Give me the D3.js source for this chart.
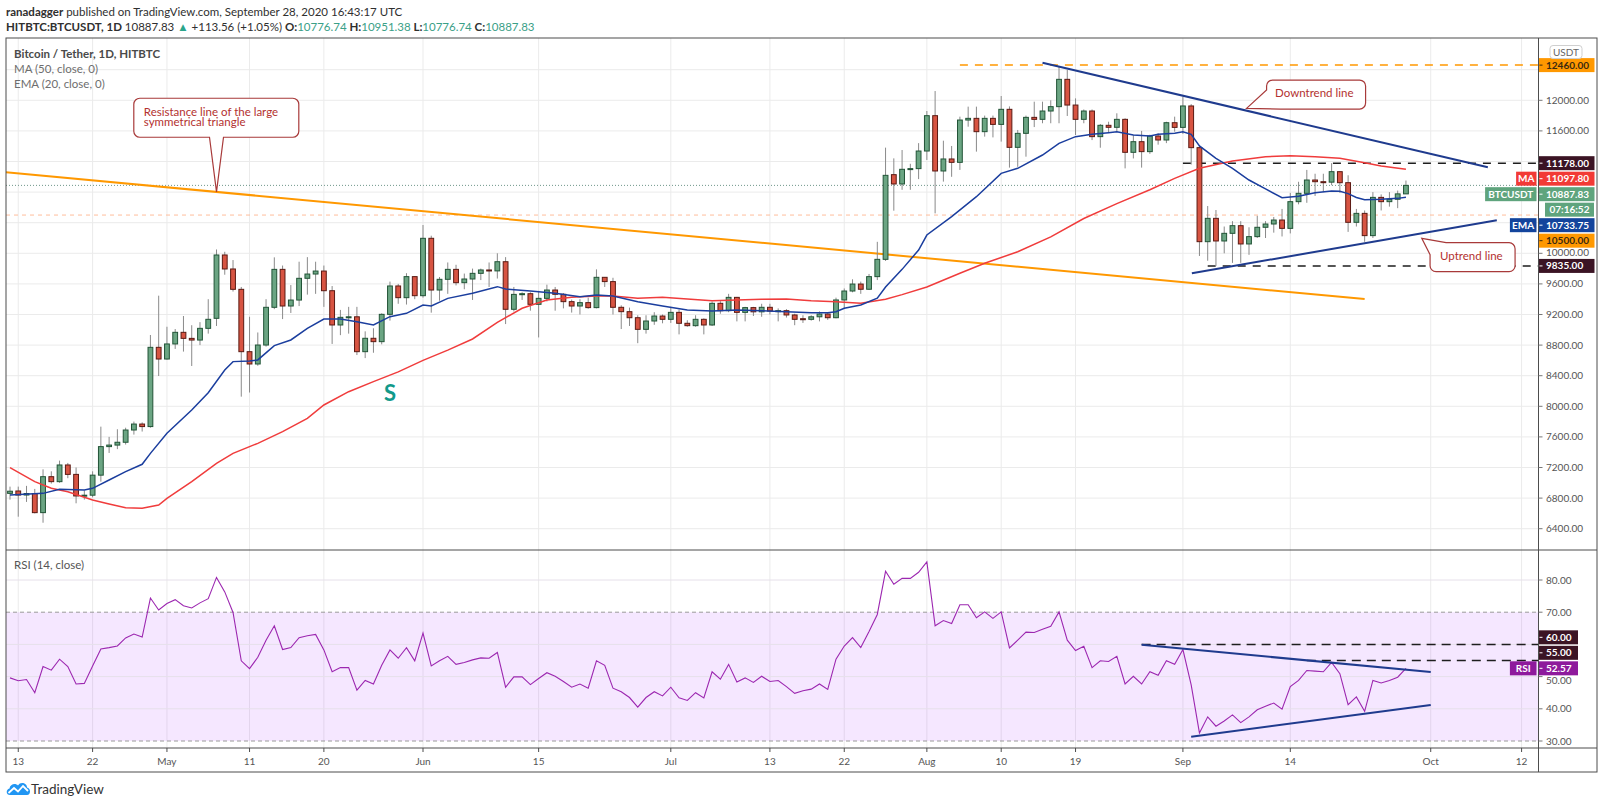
<!DOCTYPE html>
<html>
<head>
<meta charset="utf-8">
<title>Bitcoin / Tether, 1D</title>
<script src="https://cdn.jsdelivr.net/npm/d3@7/dist/d3.min.js"></script>
<style>
  html, body { margin: 0; padding: 0; background: #fff; }
  svg { display: block; font-family: Lato, "Open Sans", sans-serif; }
</style>
</head>
<body>
<svg id="chart" width="1600" height="805"></svg>
<script>
// ---- values (daily candles from 2020-04-12) ----
const firstDay = "2020-04-12";

const opens = [6862,6893,6840,6860,6610,7080,7015,7233,7110,6828,
  6838,7100,7473,7493,7530,7690,7768,7735,8771,8618,
  8815,8967,8888,8866,9019,9150,9978,9795,9529,8714,
  8553,8801,9294,9790,9311,9389,9673,9729,9768,9511,
  9063,9163,9170,8714,8889,8845,9202,9573,9420,9695,
  9446,10196,9520,9660,9790,9616,9664,9738,9782,9770,
  9890,9268,9463,9472,9333,9411,9520,9464,9368,9311,
  9355,9290,9686,9630,9294,9237,9158,9006,9115,9180,
  9137,9228,9085,9054,9137,9063,9346,9250,9424,9228,
  9290,9235,9294,9245,9250,9194,9145,9137,9170,9206,
  9158,9390,9507,9598,9530,9695,9921,11028,10906,11098,
  11107,11337,11799,11076,11233,11189,11742,11764,11590,11764,
  11685,11882,11385,11568,11777,11751,11860,11917,12274,11938,
  11751,11860,11525,11673,11647,11751,11320,11459,11329,11533,
  11481,11707,11646,11926,11381,10152,10457,10161,10261,10361,
  10122,10218,10340,10383,10435,10326,10675,10784,10958,10936,
  10930,11067,10923,10405,10522,10231,10731,10675,10706,10776.74];

const highs = [6950,6950,6960,6920,7176,7150,7290,7260,7200,6900,
  7150,7734,7600,7700,7720,7800,7790,8932,9446,9040,
  9010,9180,9060,9100,9400,10050,10020,9912,9560,9170,
  8965,9400,9947,9840,9585,9890,9950,9890,9840,9572,
  9260,9300,9300,8980,9020,9215,9630,9600,9740,9700,
  10370,10230,9690,9880,9850,9735,9800,9800,9880,10000,
  9950,9560,9490,9490,9510,9590,9560,9480,9395,9400,
  9420,9790,9690,9680,9320,9290,9190,9190,9230,9200,
  9300,9265,9125,9190,9150,9370,9375,9470,9430,9300,
  9300,9340,9340,9280,9270,9210,9190,9190,9240,9220,
  9420,9540,9660,9630,9730,10150,11381,11241,11350,11170,
  11440,11860,12121,11472,11403,11786,11917,11917,11800,11800,
  12056,11920,11612,11800,11982,11982,12000,12448,12396,12025,
  11880,11880,11690,11720,11830,11765,11545,11600,11550,11570,
  11720,11786,12047,11950,11400,10618,10566,10350,10420,10420,
  10340,10490,10420,10475,10580,10790,10935,11090,11040,11040,
  11178,11070,11020,10580,10560,10800,10770,10800,10820,10951.38];

const lows = [6780,6557,6750,6600,6478,6990,7000,7060,6732,6780,
  6810,7015,7390,7440,7500,7630,7670,7720,8396,8610,
  8750,8715,8527,8800,8950,9050,9720,9500,8126,8180,
  8530,8780,9270,9140,9220,9310,9460,9470,9300,8815,
  8930,8950,8670,8630,8700,8810,9120,9340,9330,9400,
  9420,9224,9380,9470,9580,9530,9390,9650,9560,9670,
  9075,9240,9390,9250,8900,9370,9250,9280,9225,9200,
  9275,9280,9560,9200,9010,9050,8825,8950,9065,9085,
  9090,8940,9040,9040,8940,9050,9210,9230,9110,9110,
  9180,9170,9200,9110,9160,9060,9090,9120,9110,9130,
  9150,9270,9490,9470,9520,9650,9900,10557,10830,10830,
  10970,11220,10522,10937,11000,11090,11655,11329,11525,11515,
  11460,11120,11130,11263,11650,11700,11700,11700,11795,11546,
  11700,11480,11380,11580,11590,11110,11240,11120,11300,11420,
  11440,11590,11560,11160,9965,9903,9835,10000,9875,9875,
  9980,10200,10200,10270,10220,10260,10640,10660,10750,10800,
  10890,10790,10280,10350,10150,10200,10560,10610,10590,10776.74];

const closes = [6890,6840,6860,6610,7080,7015,7233,7110,6828,6838,
  7100,7473,7493,7530,7690,7768,7735,8771,8618,8815,
  8967,8888,8866,9019,9137,9978,9795,9529,8714,8553,
  8801,9294,9790,9311,9389,9673,9729,9768,9511,9063,
  9163,9170,8714,8889,8845,9202,9573,9420,9695,9446,
  10196,9520,9660,9790,9616,9664,9738,9782,9770,9890,
  9268,9463,9472,9333,9411,9520,9464,9368,9311,9355,
  9290,9686,9630,9294,9237,9158,9006,9115,9180,9137,
  9228,9085,9054,9137,9063,9346,9250,9424,9228,9290,
  9235,9294,9245,9250,9194,9137,9137,9170,9206,9158,
  9390,9507,9598,9530,9695,9921,11019,10906,11098,11107,
  11337,11799,11076,11233,11189,11742,11764,11590,11764,11685,
  11882,11385,11568,11777,11751,11860,11917,12274,11938,11751,
  11860,11525,11673,11647,11751,11320,11459,11329,11533,11481,
  11707,11646,11926,11381,10152,10457,10161,10261,10361,10122,
  10218,10340,10383,10435,10326,10675,10784,10958,10936,10930,
  11067,10923,10405,10522,10231,10731,10675,10706,10776.74,10887.83];

const rsiValues = [49.6,48.7,49.1,45.0,53.1,52.0,55.4,53.1,47.7,47.9,
  53.3,58.6,59.0,59.5,62.0,63.2,62.3,74.4,70.7,72.7,
  73.9,72.0,71.3,72.9,74.2,80.8,76.3,69.9,54.9,52.5,
  56.0,61.3,65.8,58.4,59.0,62.1,62.7,63.1,58.3,51.5,
  52.8,52.8,45.8,48.8,47.7,53.5,58.3,55.7,59.0,54.9,
  63.5,53.3,54.9,56.3,53.8,54.4,55.2,55.8,55.7,57.5,
  46.7,49.9,49.9,47.5,49.4,51.2,50.1,48.5,46.7,47.7,
  46.4,54.9,53.5,46.4,45.3,43.5,40.5,43.5,45.3,44.0,
  46.7,43.4,42.6,45.0,43.4,51.5,49.2,53.8,48.3,49.6,
  48.2,50.1,48.5,48.8,46.9,44.8,45.6,46.1,47.7,46.0,
  55.4,59.5,62.1,59.0,64.0,69.3,82.7,78.7,80.5,80.5,
  82.4,85.6,65.8,67.4,66.5,72.3,72.3,68.3,70.1,68.1,
  70.1,58.9,61.3,63.8,63.7,64.7,65.6,70.1,61.3,58.1,
  59.4,52.8,54.9,54.7,56.3,47.7,50.1,47.7,51.5,50.4,
  54.9,53.8,58.4,47.4,32.5,37.5,34.6,36.2,38.1,35.7,
  37.5,39.7,40.8,41.8,39.9,46.9,48.8,51.9,51.7,51.5,
  54.4,50.9,41.3,43.7,39.2,48.8,48.0,48.8,49.8,52.57];

// MA(50) and EMA(20) read at [day index, value]
const maPoints = [[0,7198],[3,7015],[5,6928],[7,6884],[10,6775],[12,6723],[14,6675],[16,6666],[18,6710],[19,6797],
  [22,7015],[25,7255],[27,7385],[30,7516],[33,7669],[36,7843],[38,8017],[41,8191],[44,8322],[47,8450],
  [50,8600],[53,8735],[56,8880],[59,9098],[62,9281],[65,9390],[68,9425],[71,9442],[73,9442],[76,9411],
  [79,9425],[82,9403],[85,9381],[88,9390],[91,9398],[94,9403],[97,9381],[100,9368],[103,9346],[106,9400],
  [108,9460],[111,9560],[115,9740],[118,9870],[122,10020],[126,10215],[130,10455],[134,10650],[138,10830],[141,10980],
  [144,11111],[148,11207],[152,11263],[155,11276],[158,11263],[161,11241],[164,11185],[166,11141],[169,11097.8]];

const emaPoints = [[0,6841],[4,6862],[6,6915],[9,6906],[10,6928],[12,7037],[14,7146],[16,7242],[17,7385],[19,7647],
  [22,7952],[24,8178],[26,8475],[27,8584],[29,8592],[30,8606],[32,8793],[34,8867],[36,9019],[38,9141],
  [40,9141],[42,9106],[44,9063],[46,9172],[48,9215],[50,9324],[51,9311],[53,9411],[56,9477],[59,9564],
  [60,9533],[63,9507],[66,9477],[69,9433],[71,9455],[73,9442],[76,9368],[79,9311],[82,9259],[85,9246],
  [88,9259],[91,9250],[94,9237],[97,9224],[99,9224],[100,9237],[101,9281],[103,9324],[105,9413],[106,9560],
  [108,9790],[110,10043],[111,10239],[114,10479],[117,10740],[120,11045],[122,11111],[125,11285],[127,11438],[129,11525],
  [131,11555],[133,11577],[134,11590],[136,11546],[138,11533],[139,11555],[141,11568],[142,11590],[143,11555],[144,11403],
  [146,11241],[148,11111],[150,10958],[152,10841],[154,10727],[156,10745],[158,10790],[160,10814],[161,10810],[162,10780],
  [163,10730],[164,10700],[166,10705],[168,10718],[169,10733.75]];

const xTicks = [["2020-04-13","13"],["2020-04-22","22"],["2020-05-01","May"],["2020-05-11","11"],["2020-05-20","20"],
  ["2020-06-01","Jun"],["2020-06-15","15"],["2020-07-01","Jul"],["2020-07-13","13"],["2020-07-22","22"],
  ["2020-08-01","Aug"],["2020-08-10","10"],["2020-08-19","19"],["2020-09-01","Sep"],["2020-09-14","14"],
  ["2020-10-01","Oct"],["2020-10-12","12"]];
const priceTicks = d3.range(6400, 12401, 400);
const rsiTicks = [30, 40, 50, 60, 70, 80];

// drawings: [date, value]
const resistanceLine = [["2020-04-11", 11064], ["2020-09-23", 9402]];
const downtrendLine = [["2020-08-15", 12491], ["2020-10-07T22:00", 11124]];
const uptrendLine = [["2020-09-02T02:00", 9739], ["2020-10-09", 10431]];
const levelLines = [
  {from: "2020-08-05", value: 12460, color: "#ff9800", dash: "8,7", width: 1.5},
  {from: "2020-09-01", value: 11178, color: "#1e1e1e", dash: "8,7", width: 1.5},
  {from: "2020-09-04", value: 9835, color: "#1e1e1e", dash: "8,7", width: 1.5},
  {from: "2020-04-01", value: 10500, color: "#ffbd9b", dash: "4,4", width: 1}
];
const rsiDownLine = [["2020-08-27", 59.9], ["2020-10-01", 51.4]];
const rsiUpLine = [["2020-09-02", 31.3], ["2020-10-01", 41.2]];
const rsiLevels = [{from: "2020-08-27", value: 60}, {from: "2020-09-16", value: 55}];
const lastPrice = 10887.83;
const lastMA = 11097.80;
const lastEMA = 10733.75;
const lastRSI = 52.57;

// ---- layout ----
const L = 6, R = 1538.5, T = 38, MB = 550, RB = 748, AB = 772, OR = 1597;
const parse = s => new Date(s.length === 10 ? s + "T00:00:00Z" : s + ":00Z");
const day0 = parse(firstDay);
const dayAt = i => d3.utcDay.offset(day0, i);

const x = d3.scaleUtc().domain([parse("2020-04-12"), parse("2020-10-12")]).range([10, 10 + 183 * 8.26]);
const y = d3.scaleLinear().domain([6000, 12000]).range([559.3, 100.3]);
const yr = d3.scaleLinear().domain([30, 80]).range([741, 580]);

const svg = d3.select("#chart");
svg.append("rect").attr("width", 1600).attr("height", 805).attr("fill", "#fff");

const defs = svg.append("defs");
defs.append("clipPath").attr("id", "clipMain").append("rect")
  .attr("x", L).attr("y", T).attr("width", R - L).attr("height", MB - T);
defs.append("clipPath").attr("id", "clipRsi").append("rect")
  .attr("x", L).attr("y", MB + 1).attr("width", R - L).attr("height", RB - MB - 1);

// ---- header ----
const head = svg.append("g").attr("font-size", 11.5).attr("fill", "#2f2f2f");
const h1 = head.append("text").attr("x", 6).attr("y", 15.5);
h1.append("tspan").attr("font-weight", "bold").text("ranadagger");
h1.append("tspan").text(" published on TradingView.com, September 28, 2020 16:43:17 UTC");
const h2 = head.append("text").attr("x", 6).attr("y", 30.5);
h2.append("tspan").attr("font-weight", "bold").text("HITBTC:BTCUSDT, 1D");
h2.append("tspan").text("  10887.83 ");
h2.append("tspan").attr("fill", "#2aa58a").text("▲");
h2.append("tspan").text(" +113.56 (+1.05%) ");
[["O:", "10776.74"], ["H:", "10951.38"], ["L:", "10776.74"], ["C:", "10887.83"]].forEach(([k, v]) => {
  h2.append("tspan").attr("font-weight", "bold").text(" " + k);
  h2.append("tspan").attr("fill", "#3aa087").text(v);
});

// ---- grid ----
const grid = svg.append("g").attr("stroke", "#ebebeb").attr("stroke-width", 1);
grid.selectAll("line.v").data(xTicks).join("line")
  .attr("x1", d => x(parse(d[0]))).attr("x2", d => x(parse(d[0])))
  .attr("y1", T).attr("y2", RB);
grid.selectAll("line.h").data(priceTicks).join("line")
  .attr("x1", L).attr("x2", R).attr("y1", d => y(d)).attr("y2", d => y(d));

// RSI band and grid
svg.append("rect").attr("x", L).attr("width", R - L)
  .attr("y", yr(70)).attr("height", yr(30) - yr(70))
  .attr("fill", "rgba(153,21,255,0.1)");
svg.append("g").attr("stroke", "#e6e0ea").selectAll("line").data([80, 60, 50, 40]).join("line")
  .attr("x1", L).attr("x2", R).attr("y1", d => yr(d)).attr("y2", d => yr(d));
svg.append("g").attr("stroke", "#9a9a9a").attr("stroke-dasharray", "4,3").selectAll("line").data([70, 30]).join("line")
  .attr("x1", L).attr("x2", R).attr("y1", d => yr(d)).attr("y2", d => yr(d));

// ---- main panel drawings ----
const gMain = svg.append("g").attr("clip-path", "url(#clipMain)");

levelLines.forEach(lv => {
  gMain.append("line")
    .attr("x1", Math.max(L, x(parse(lv.from)))).attr("x2", R)
    .attr("y1", y(lv.value)).attr("y2", y(lv.value))
    .attr("stroke", lv.color).attr("stroke-width", lv.width).attr("stroke-dasharray", lv.dash);
});

// last price dotted line
gMain.append("line").attr("x1", L).attr("x2", R)
  .attr("y1", y(lastPrice)).attr("y2", y(lastPrice))
  .attr("stroke", "#6f978a").attr("stroke-dasharray", "1,2");

const trend = (pts, scaleY) => d3.line().x(d => x(parse(d[0]))).y(d => scaleY(d[1]))(pts);
gMain.append("path").attr("d", trend(resistanceLine, y))
  .attr("stroke", "#ff9800").attr("stroke-width", 2).attr("fill", "none");

const candles = opens.map((o, i) => ({date: dayAt(i), o, h: highs[i], l: lows[i], c: closes[i]}));
gMain.append("g").selectAll("line").data(candles).join("line")
  .attr("x1", d => x(d.date)).attr("x2", d => x(d.date))
  .attr("y1", d => y(d.h)).attr("y2", d => y(d.l))
  .attr("stroke", "#8a8a8a").attr("stroke-width", 1);
gMain.append("g").selectAll("rect").data(candles).join("rect")
  .attr("x", d => x(d.date) - 2.4).attr("width", 4.8)
  .attr("y", d => y(Math.max(d.o, d.c)))
  .attr("height", d => Math.max(1, Math.abs(y(d.o) - y(d.c))))
  .attr("fill", d => d.c >= d.o ? "#6ba583" : "#d75442")
  .attr("stroke", d => d.c >= d.o ? "#225437" : "#5b1a13")
  .attr("stroke-width", 1);

const ind = d3.line().x(d => x(dayAt(d[0]))).y(d => y(d[1]));
gMain.append("path").attr("d", ind(maPoints)).attr("fill", "none")
  .attr("stroke", "#f03c3c").attr("stroke-width", 1.5);
gMain.append("path").attr("d", ind(emaPoints)).attr("fill", "none")
  .attr("stroke", "#1b3e9e").attr("stroke-width", 1.5);

gMain.append("path").attr("d", trend(downtrendLine, y))
  .attr("stroke", "#1f3b8e").attr("stroke-width", 2).attr("fill", "none");
gMain.append("path").attr("d", trend(uptrendLine, y))
  .attr("stroke", "#1f3b8e").attr("stroke-width", 2).attr("fill", "none");

// callouts: tip in data coords, box offset in px
function callout(tipDate, tipValue, box, side, lines) {
  const tx = x(parse(tipDate)), ty = y(tipValue);
  const bx = tx + box.dx, by = ty + box.dy, w = box.w, h = box.h, r = 6;
  const p = d3.path();
  if (side === "bottom") {
    p.moveTo(bx + r, by); p.lineTo(bx + w - r, by); p.arcTo(bx + w, by, bx + w, by + r, r);
    p.lineTo(bx + w, by + h - r); p.arcTo(bx + w, by + h, bx + w - r, by + h, r);
    p.lineTo(tx + 7, by + h); p.lineTo(tx, ty); p.lineTo(tx - 7, by + h);
    p.lineTo(bx + r, by + h); p.arcTo(bx, by + h, bx, by + h - r, r);
    p.lineTo(bx, by + r); p.arcTo(bx, by, bx + r, by, r);
  } else if (side === "bottomleft") {
    p.moveTo(bx + r, by); p.lineTo(bx + w - r, by); p.arcTo(bx + w, by, bx + w, by + r, r);
    p.lineTo(bx + w, by + h - r); p.arcTo(bx + w, by + h, bx + w - r, by + h, r);
    p.lineTo(bx + 14, by + h); p.lineTo(tx, ty); p.lineTo(bx, by + 10);
    p.lineTo(bx, by + r); p.arcTo(bx, by, bx + r, by, r);
  } else {
    p.moveTo(bx + 16, by); p.lineTo(bx + w - r, by); p.arcTo(bx + w, by, bx + w, by + r, r);
    p.lineTo(bx + w, by + h - r); p.arcTo(bx + w, by + h, bx + w - r, by + h, r);
    p.lineTo(bx + r, by + h); p.arcTo(bx, by + h, bx, by + h - r, r);
    p.lineTo(bx, by + 12); p.lineTo(tx, ty);
  }
  p.closePath();
  svg.append("path").attr("d", p.toString()).attr("fill", "#fff")
    .attr("stroke", "#a83a3a").attr("stroke-width", 1.2);
  const t = svg.append("text").attr("font-size", 11.5).attr("fill", "#b3312f");
  lines.forEach((s, i) => t.append("tspan").attr("x", bx + box.tx).attr("y", by + box.ty + i * 10.5).text(s));
}
callout("2020-05-07", 10802, {dx: -82.7, dy: -93.7, w: 165, h: 39, tx: 10, ty: 17.5}, "bottom",
  ["Resistance line of the large", "symmetrical triangle"]);
callout("2020-09-08T17:00", 11895, {dx: 20, dy: -28.3, w: 99, h: 29, tx: 8.5, ty: 17}, "bottomleft",
  ["Downtrend line"]);
callout("2020-09-29T22:00", 10196, {dx: 8.3, dy: 4.4, w: 85, h: 29, tx: 10, ty: 17.5}, "topleft",
  ["Uptrend line"]);

svg.append("text").attr("x", x(parse("2020-05-28"))).attr("y", y(8073))
  .attr("text-anchor", "middle").attr("font-size", 22).attr("font-weight", "bold")
  .attr("fill", "#12998a").text("S");

// legend
const leg = svg.append("g").attr("font-size", 11.5);
leg.append("text").attr("x", 14).attr("y", 58).attr("fill", "#4a4a4a").attr("font-weight", "bold")
  .text("Bitcoin / Tether, 1D, HITBTC");
leg.append("text").attr("x", 14).attr("y", 73).attr("fill", "#6e6e6e").text("MA (50, close, 0)");
leg.append("text").attr("x", 14).attr("y", 88).attr("fill", "#6e6e6e").text("EMA (20, close, 0)");

// ---- RSI panel ----
const gRsi = svg.append("g").attr("clip-path", "url(#clipRsi)");
rsiLevels.forEach(lv => {
  gRsi.append("line").attr("x1", x(parse(lv.from))).attr("x2", R)
    .attr("y1", yr(lv.value)).attr("y2", yr(lv.value))
    .attr("stroke", "#1e1e1e").attr("stroke-width", 1.5).attr("stroke-dasharray", "9,6");
});
gRsi.append("path")
  .attr("d", d3.line().x((d, i) => x(dayAt(i))).y(d => yr(d))(rsiValues))
  .attr("fill", "none").attr("stroke", "#9c27b0").attr("stroke-width", 1.1);
gRsi.append("path").attr("d", trend(rsiDownLine, yr))
  .attr("stroke", "#1f3b8e").attr("stroke-width", 2).attr("fill", "none");
gRsi.append("path").attr("d", trend(rsiUpLine, yr))
  .attr("stroke", "#1f3b8e").attr("stroke-width", 2).attr("fill", "none");
svg.append("text").attr("x", 14).attr("y", 569).attr("font-size", 11.5).attr("fill", "#555")
  .text("RSI (14, close)");

// ---- frame ----
const frame = svg.append("g").attr("stroke", "#4d4d4d").attr("stroke-width", 1).attr("fill", "none");
frame.append("rect").attr("x", L).attr("y", T).attr("width", OR - L).attr("height", AB - T);
frame.append("line").attr("x1", L).attr("x2", OR).attr("y1", MB).attr("y2", MB);
frame.append("line").attr("x1", L).attr("x2", OR).attr("y1", RB).attr("y2", RB);
frame.append("line").attr("x1", R).attr("x2", R).attr("y1", T).attr("y2", AB);

// ---- time axis ----
const xa = svg.append("g").attr("font-size", 10).attr("fill", "#555").attr("text-anchor", "middle");
xTicks.forEach(([d, s]) => {
  xa.append("line").attr("x1", x(parse(d))).attr("x2", x(parse(d))).attr("y1", RB).attr("y2", RB + 4)
    .attr("stroke", "#4d4d4d");
  xa.append("text").attr("x", x(parse(d))).attr("y", 764.5).text(s);
});

// ---- price axis labels ----
function stackLabels(items, h, dir) {
  const s = items.slice().sort((a, b) => a.y - b.y);
  if (dir === "down") {
    let prev = -Infinity;
    s.forEach(it => { it.cy = Math.max(it.y, prev + h); prev = it.cy + (it.extra ? h : 0); });
  } else {
    let next = Infinity;
    for (let i = s.length - 1; i >= 0; i--) {
      const it = s[i];
      it.cy = Math.min(it.y, next - h - (it.extra ? h : 0));
      next = it.cy;
    }
  }
  return s;
}

const mainLabels = stackLabels([
  {y: y(12460), text: "12460.00", bg: "#ff9800", fg: "#3a2a10"},
  {y: y(11178), text: "11178.00", bg: "#3b1424", fg: "#fff"},
  {y: y(lastMA), text: d3.format(".2f")(lastMA), bg: "#f23a36", fg: "#fff", tag: "MA"},
  {y: y(lastPrice), text: d3.format(".2f")(lastPrice), bg: "#5fa47d", fg: "#fff", tag: "BTCUSDT", extra: "07:16:52"},
  {y: y(lastEMA), text: d3.format(".2f")(lastEMA), bg: "#13449c", fg: "#fff", tag: "EMA"},
  {y: y(10500), text: "10500.00", bg: "#ff9800", fg: "#3a2a10"},
  {y: y(9835), text: "9835.00", bg: "#3b1424", fg: "#fff"}
], 15.5, "down");

const rsiLabels = stackLabels([
  {y: yr(60), text: "60.00", bg: "#3b1424", fg: "#fff"},
  {y: yr(55), text: "55.00", bg: "#3b1424", fg: "#fff"},
  {y: yr(lastRSI), text: d3.format(".2f")(lastRSI), bg: "#8e1a9c", fg: "#fff", tag: "RSI"}
], 15.5, "up");

const pa = svg.append("g").attr("font-size", 10);
// tick labels: hidden when a coloured label sits on them, nudged clear when partly covered
function tickLabels(ticks, scale, fmt, labels) {
  ticks.forEach(v => {
    const ty = scale(v);
    let textY = ty;
    const near = labels.find(l => Math.abs(l.cy - ty) < 13 + (l.extra && ty > l.cy ? 15.5 : 0));
    if (near) {
      const d = ty - near.cy;
      if (Math.abs(d) < 6) return;
      const span = near.extra ? 22.5 : 7;
      textY = d > 0 ? near.cy + span + 5 : near.cy - 7 - 5;
      if (labels.some(l => l !== near && Math.abs(l.cy - textY) < 12)) return;
    }
    pa.append("line").attr("x1", R).attr("x2", R + 4).attr("y1", ty).attr("y2", ty).attr("stroke", "#777");
    pa.append("text").attr("x", 1546).attr("y", textY + 3.5).attr("fill", "#555").text(fmt(v));
  });
}
tickLabels(priceTicks, y, d3.format(".2f"), mainLabels);
tickLabels(rsiTicks, yr, d3.format(".2f"), rsiLabels);

function drawLabels(labels, width) {
  labels.forEach(l => {
    pa.append("rect").attr("x", R + 0.5).attr("y", l.cy - 7).attr("width", width).attr("height", 14).attr("fill", l.bg);
    pa.append("line").attr("x1", R + 1).attr("x2", R + 4).attr("y1", l.cy).attr("y2", l.cy).attr("stroke", l.fg);
    pa.append("text").attr("x", 1546).attr("y", l.cy + 3.5).attr("fill", l.fg).attr("font-weight", "bold").text(l.text);
    if (l.extra) {
      pa.append("rect").attr("x", 1545).attr("y", l.cy + 8.5).attr("width", width - 6.5).attr("height", 14).attr("fill", l.bg);
      pa.append("text").attr("x", 1569.5).attr("y", l.cy + 19).attr("text-anchor", "middle")
        .attr("fill", l.fg).attr("font-weight", "bold").text(l.extra);
    }
    if (l.tag) {
      const tw = l.tag.length * 6.2 + 8;
      pa.append("rect").attr("x", R - 2 - tw).attr("y", l.cy - 7).attr("width", tw).attr("height", 14).attr("fill", l.bg);
      pa.append("text").attr("x", R - 2 - tw / 2).attr("y", l.cy + 3.5).attr("text-anchor", "middle")
        .attr("fill", l.fg).attr("font-weight", "bold").text(l.tag);
    }
  });
}
drawLabels(mainLabels, 55.5);
drawLabels(rsiLabels, 39);

// currency box
pa.append("rect").attr("x", 1550).attr("y", 45.5).attr("width", 32).attr("height", 13).attr("rx", 3)
  .attr("fill", "#fff").attr("stroke", "#cfcfcf");
pa.append("text").attr("x", 1566).attr("y", 55.5).attr("text-anchor", "middle").attr("fill", "#666").text("USDT");

// ---- footer ----
const logo = svg.append("g").attr("transform", "translate(6,781)");
logo.append("path")
  .attr("d", "M4,14 C0,14 -0.5,8.5 3.5,7.5 C4,3 9.5,1.5 12,4.5 C14,0.5 21,1.5 21,6.5 C25,7 25,14 21,14 Z")
  .attr("fill", "#2196f3");
logo.append("path").attr("d", "M2.5,12 L8,7 L12,10.5 L17,5 L22,10")
  .attr("fill", "none").attr("stroke", "#fff").attr("stroke-width", 1.8);
svg.append("text").attr("x", 31).attr("y", 793.5).attr("font-size", 13.5).attr("fill", "#333")
  .text("TradingView");
</script>
</body>
</html>
